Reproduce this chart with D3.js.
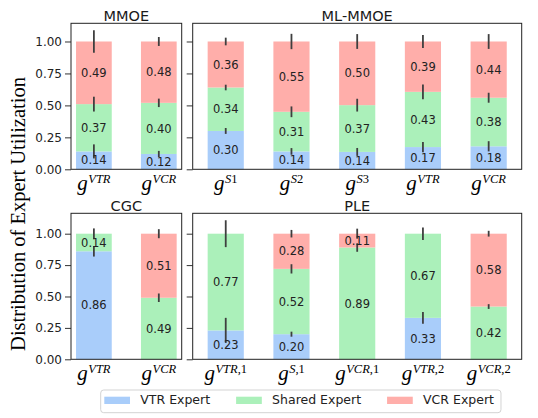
<!DOCTYPE html>
<html><head><meta charset="utf-8">
<script src="https://cdn.jsdelivr.net/npm/d3@7"></script>
<style>body{margin:0;background:#fff}svg{display:block}</style>
</head><body>
<svg id="c" width="538" height="418"></svg>
<script>
// ---------- data ----------
const panelTitles = ["MMOE", "ML-MMOE", "CGC", "PLE"];
const seriesNames = ["VTR Expert", "Shared Expert", "VCR Expert"];

const mmoeGates = ["VTR", "VCR"];
const mmoeVTR = [0.14, 0.12];
const mmoeShared = [0.37, 0.40];
const mmoeVCR = [0.49, 0.48];
const mmoeVTRErr = [0.055, 0.024];
const mmoeSharedErr = [0.058, 0.033];
const mmoeVCRErr = [0.088, 0.035];

const mlmmoeGates = ["S1", "S2", "S3", "VTR", "VCR"];
const mlmmoeVTR = [0.30, 0.14, 0.136, 0.174, 0.18];
const mlmmoeShared = [0.34, 0.31, 0.366, 0.432, 0.38];
const mlmmoeVCR = [0.36, 0.55, 0.498, 0.394, 0.44];
const mlmmoeVTRErr = [0.023, 0.026, 0.031, 0.040, 0.040];
const mlmmoeSharedErr = [0.022, 0.042, 0.050, 0.058, 0.039];
const mlmmoeVCRErr = [0.030, 0.060, 0.058, 0.050, 0.058];

const cgcGates = ["VTR", "VCR"];
const cgcVTR = [0.86, 0];
const cgcShared = [0.14, 0.49];
const cgcVCR = [0, 0.51];
const cgcVTRErr = [0.042, 0];
const cgcSharedErr = [0.042, 0.034];
const cgcVCRErr = [0, 0.036];

const pleGates = ["VTR,1", "S,1", "VCR,1", "VTR,2", "VCR,2"];
const pleVTR = [0.23, 0.20, 0, 0.33, 0];
const pleShared = [0.77, 0.52, 0.89, 0.67, 0.42];
const pleVCR = [0, 0.28, 0.11, 0, 0.58];
const pleVTRErr = [0.100, 0.020, 0, 0.046, 0];
const pleSharedErr = [0.107, 0.037, 0.034, 0.050, 0.019];
const pleVCRErr = [0, 0.030, 0.040, 0, 0.023];

const yTicks = [0, 0.25, 0.5, 0.75, 1.0];
const yLabel = "Distribution of Expert Utilization";

// ---------- style ----------
const colors = ["#a9cdfa", "#abf0ba", "#ffaeaa"];
const barW = 0.55;
const cols = [{x0: 71, x1: 181.7}, {x0: 192.7, x1: 521.7}];
const rows = [{y0: 23.3, y1: 169.3}, {y0: 213.3, y1: 359.3}];

const panels = [
  {title: panelTitles[0], gates: mmoeGates, vals: [mmoeVTR, mmoeShared, mmoeVCR], errs: [mmoeVTRErr, mmoeSharedErr, mmoeVCRErr], row: 0, col: 0},
  {title: panelTitles[1], gates: mlmmoeGates, vals: [mlmmoeVTR, mlmmoeShared, mlmmoeVCR], errs: [mlmmoeVTRErr, mlmmoeSharedErr, mlmmoeVCRErr], row: 0, col: 1},
  {title: panelTitles[2], gates: cgcGates, vals: [cgcVTR, cgcShared, cgcVCR], errs: [cgcVTRErr, cgcSharedErr, cgcVCRErr], row: 1, col: 0},
  {title: panelTitles[3], gates: pleGates, vals: [pleVTR, pleShared, pleVCR], errs: [pleVTRErr, pleSharedErr, pleVCRErr], row: 1, col: 1}
];

// build segments
panels.forEach(p => {
  p.segs = [];
  p.gates.forEach((g, i) => {
    let cum = 0;
    p.vals.forEach((arr, s) => {
      const v = arr[i];
      p.segs.push({i, s, y0: cum, y1: cum + v, v, err: p.errs[s][i]});
      cum += v;
    });
  });
});
// shared y per row (matplotlib auto margins 5%)
const rowMax = [0, 1].map(r => d3.max(panels.filter(p => p.row === r).flatMap(p => p.segs.map(d => d.y1 + d.err))) * 1.05);

const svg = d3.select("#c");

panels.forEach(p => {
  const C = cols[p.col], R = rows[p.row];
  const n = p.gates.length;
  const lo = -barW / 2, hi = n - 1 + barW / 2, m = (hi - lo) * 0.05;
  const x = d3.scaleLinear().domain([lo - m, hi + m]).range([C.x0, C.x1]);
  const y = d3.scaleLinear().domain([0, rowMax[p.row]]).range([R.y1, R.y0]);
  const g = svg.append("g");

  // bars
  g.selectAll("rect.bar").data(p.segs.filter(d => d.v > 0)).join("rect")
    .attr("x", d => x(d.i - barW / 2)).attr("width", x(barW) - x(0))
    .attr("y", d => y(d.y1)).attr("height", d => y(d.y0) - y(d.y1))
    .attr("fill", d => colors[d.s]);

  // error bars
  g.selectAll("line.err").data(p.segs.filter(d => d.err > 0)).join("line")
    .attr("x1", d => x(d.i)).attr("x2", d => x(d.i))
    .attr("y1", d => y(d.y1 - d.err)).attr("y2", d => y(d.y1 + d.err))
    .attr("stroke", "#3f3f3f").attr("stroke-width", 1.8);

  // value labels
  g.selectAll("text.val").data(p.segs.filter(d => d.v > 0)).join("text")
    .attr("x", d => x(d.i)).attr("y", d => y((d.y0 + d.y1) / 2))
    .attr("dy", "0.36em").attr("text-anchor", "middle")
    .attr("font-family", "DejaVu Sans").attr("font-size", 11.5).attr("fill", "#222")
    .text(d => d3.format(".2f")(d.v));

  // y axis ticks
  const ax = g.append("g").attr("transform", `translate(${C.x0},0)`)
    .call(d3.axisLeft(y).tickValues(yTicks).tickSize(6).tickPadding(3)
      .tickFormat(p.col === 0 ? d3.format(".2f") : () => ""));
  ax.select(".domain").remove();
  ax.selectAll("line").attr("stroke", "#333").attr("stroke-width", 1);
  ax.selectAll("text").attr("font-family", "DejaVu Sans").attr("font-size", 12).attr("fill", "#222");

  // frame
  g.append("rect").attr("x", C.x0).attr("y", R.y0).attr("width", C.x1 - C.x0).attr("height", R.y1 - R.y0)
    .attr("fill", "none").attr("stroke", "#222").attr("stroke-width", 1);

  // title
  g.append("text").attr("x", (C.x0 + C.x1) / 2).attr("y", R.y0 - 2.8).attr("text-anchor", "middle")
    .attr("font-family", "DejaVu Sans").attr("font-size", 14.5).attr("fill", "#1a1a1a").text(p.title);

  // x tick labels (g^{...})
  p.gates.forEach((lab, i) => {
    const t = g.append("text").attr("x", x(i)).attr("y", R.y1 + 20.5).attr("text-anchor", "middle")
      .attr("font-family", "Liberation Serif").attr("fill", "#000");
    t.append("tspan").attr("font-size", 21).attr("font-style", "italic").text("g");
    const runs = lab.match(/[A-Za-z]+|[^A-Za-z]+/g);
    runs.forEach((r, k) => {
      const ts = t.append("tspan").attr("font-size", 12.5)
        .attr("font-style", /[A-Za-z]/.test(r) ? "italic" : "normal").text(r);
      if (k === 0) ts.attr("dy", -7.2).attr("dx", 0.5);
    });
  });
});

// y label
svg.append("text").attr("transform", "translate(25,214) rotate(-90)").attr("text-anchor", "middle")
  .attr("font-family", "Liberation Serif").attr("font-size", 20.5).attr("fill", "#000").text(yLabel);

// legend
const lg = svg.append("g");
const box = lg.append("rect").attr("x", 100.7).attr("y", 390).attr("height", 22.7).attr("rx", 3)
  .attr("fill", "#fff").attr("stroke", "#d3d3d3").attr("stroke-width", 1);
let lx = 104.3;
seriesNames.forEach((name, s) => {
  lg.append("rect").attr("x", lx).attr("y", 396.7).attr("width", 25.7).attr("height", 7.3).attr("fill", colors[s]);
  const t = lg.append("text").attr("x", lx + 36).attr("y", 404.2)
    .attr("font-family", "DejaVu Sans").attr("font-size", 12.5).attr("fill", "#222").text(name);
  lx = lx + 36 + t.node().getComputedTextLength() + 26;
});
box.attr("width", lx - 26 + 7 - 100.7);
</script>
</body></html>
